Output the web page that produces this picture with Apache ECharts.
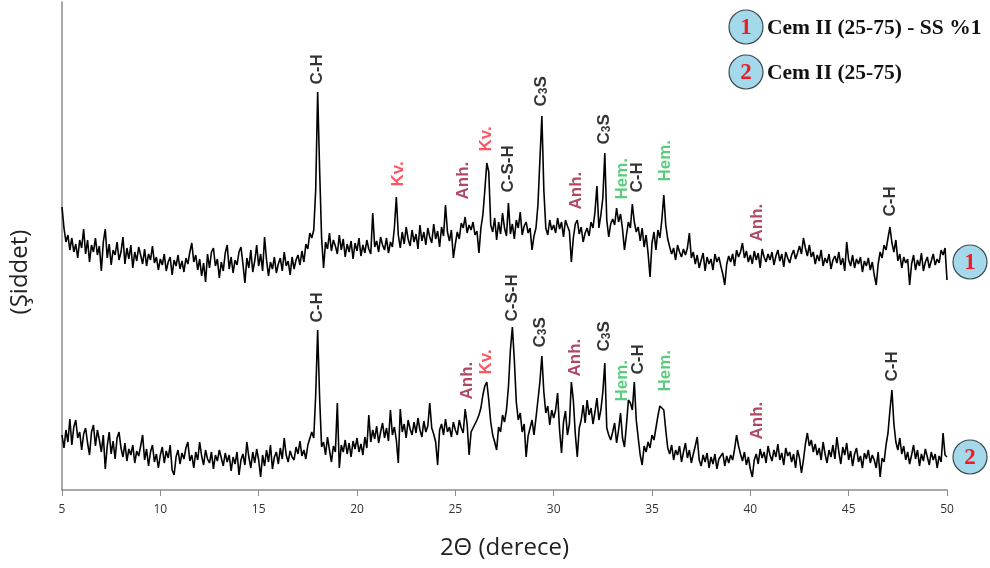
<!DOCTYPE html>
<html>
<head>
<meta charset="utf-8">
<script src="https://cdn.jsdelivr.net/npm/echarts@6/dist/echarts.min.js"></script>
<style>html,body{margin:0;padding:0;background:#fff}#c{width:990px;height:568px}</style>
</head>
<body>
<div id="c"></div>
<script>
// 2θ sampling grid of the traces
const thetaStart = 5.0;
const thetaStep = 0.1;
const xTicks = [5, 10, 15, 20, 25, 30, 35, 40, 45, 50];

// Trace 1: Cem II (25-75) - SS %1 (offset intensity, arbitrary units)
const trace1 = [
283,262,248,255,240,252,238,246,232,250,
242,261,236,250,228,245,238,252,235,244,
219,248,261,232,246,225,240,235,248,230,
238,253,226,242,231,245,222,238,229,243,
235,226,241,224,236,230,244,227,233,220,
231,225,236,219,228,233,215,230,224,235,
221,229,218,232,226,238,247,228,235,220,
231,214,227,208,236,222,238,242,224,231,
212,228,219,237,245,221,233,217,230,225,
238,243,226,207,232,222,240,218,229,245,
224,236,219,253,230,214,228,221,233,217,
226,232,219,238,224,229,215,233,221,230,
235,225,239,228,246,241,257,252,260,300,
398,320,252,222,248,241,257,239,250,244,
236,255,240,251,233,246,238,249,231,247,
239,252,234,245,237,250,241,236,277,243,
249,238,253,245,240,252,237,248,243,262,
293,255,242,258,246,263,251,244,260,248,
256,241,265,249,258,245,262,253,247,266,
251,259,243,263,254,285,258,249,260,232,
246,258,251,267,262,273,257,265,260,268,
255,259,237,262,275,300,327,318,265,258,
272,250,268,256,277,262,254,287,256,266,
251,270,262,278,255,264,268,257,262,240,
254,262,285,330,374,300,262,255,270,260,
265,257,272,261,268,253,270,264,259,228,
252,266,270,256,263,248,257,262,254,268,
262,278,304,262,275,292,337,270,253,266,
271,265,282,268,276,261,240,255,268,262,
286,268,258,263,249,262,243,255,237,213,
247,258,240,260,252,270,295,265,251,243,
236,242,230,245,238,233,241,235,242,257,
232,238,226,235,222,230,237,219,233,226,
231,220,236,228,233,224,216,205,226,234,
228,236,224,240,233,238,247,232,239,228,
235,226,239,230,237,222,241,233,228,236,
230,238,225,234,240,229,236,223,238,232,
227,235,240,231,237,244,236,252,242,234,
245,233,238,226,235,229,240,224,232,227,
236,221,230,234,227,238,225,232,219,248,
230,224,235,222,231,226,233,218,229,224,
232,220,228,215,205,226,238,232,245,240,
252,263,247,238,250,229,236,222,233,227,
231,205,226,235,220,230,224,237,219,228,
233,222,229,236,225,231,227,240,235,242,
210
];

// Trace 2: Cem II (25-75)
const trace2 = [
55,42,60,48,71,45,63,70,52,58,
40,56,62,47,35,58,65,44,60,50,
38,55,21,44,58,36,49,31,52,58,
42,33,47,29,41,35,45,27,39,34,
44,55,30,41,24,38,45,28,36,22,
35,43,27,39,32,45,20,15,33,40,
26,37,31,42,48,29,35,22,38,30,
48,34,25,40,31,27,38,21,35,29,
40,32,24,37,28,35,19,33,26,38,
15,30,36,25,48,33,22,38,27,41,
30,13,35,24,40,28,45,21,33,38,
26,42,31,52,35,28,39,33,30,43,
36,49,34,40,31,45,44,58,52,95,
160,92,43,48,35,53,40,28,44,38,
87,22,45,38,50,36,47,33,49,41,
52,38,46,35,53,42,75,48,60,51,
64,47,58,67,52,62,49,80,55,63,
50,27,81,58,66,52,70,61,55,68,
57,72,60,53,69,58,64,87,62,56,
48,25,60,66,55,71,58,63,53,68,
60,55,70,62,57,81,66,35,58,62,
64,70,75,82,95,104,108,90,68,55,
48,40,63,58,75,68,80,103,140,163,
130,88,70,77,58,66,33,54,62,70,
55,72,90,108,134,98,77,84,65,80,
72,80,97,60,37,68,79,55,66,108,
90,56,33,62,70,85,67,90,75,82,
66,78,92,70,80,98,127,62,55,50,
58,67,47,60,77,52,43,65,90,87,
80,108,70,52,35,25,44,38,48,42,
55,50,62,74,84,86,80,60,42,36,
45,30,40,35,44,28,38,47,32,40,
27,36,44,53,30,24,35,28,37,22,
33,26,36,21,31,29,37,24,34,27,
35,30,41,55,44,36,29,38,25,33,
21,13,30,36,26,41,32,38,27,44,
35,29,40,33,46,30,37,25,42,34,
38,28,36,22,40,32,17,30,46,57,
44,50,38,46,35,42,30,48,36,27,
40,33,45,31,53,38,26,43,35,47,
30,39,24,36,42,28,34,22,37,31,
40,27,35,30,22,38,13,32,28,45,
57,80,100,66,48,40,52,36,44,30,
38,26,35,45,31,40,24,36,29,41,
33,25,38,30,36,22,34,28,57,35,
33
];

// Phase labels: [2θ, label base intensity, text, phase]
const labels1 = [
  [18.0, 405, 'C-H', 'ch'],
  [22.08, 303, 'Kv.', 'kv'],
  [25.39, 290, 'Anh.', 'anh'],
  [26.6, 338, 'Kv.', 'kv'],
  [27.67, 297, 'C-S-H', 'ch'],
  [29.35, 383, 'C3S', 'c3s'],
  [31.13, 280, 'Anh.', 'anh'],
  [32.55, 345, 'C3S', 'c3s'],
  [33.47, 290, 'Hem.', 'hem'],
  [34.23, 297, 'C-H', 'ch'],
  [35.66, 308, 'Hem.', 'hem'],
  [40.33, 248, 'Anh.', 'anh'],
  [47.1, 273, 'C-H', 'ch']
];
const labels2 = [
  [18.0, 167, 'C-H', 'ch'],
  [25.59, 90, 'Anh.', 'anh'],
  [26.6, 115, 'Kv.', 'kv'],
  [27.88, 168, 'C-S-H', 'ch'],
  [29.3, 142, 'C3S', 'c3s'],
  [31.08, 113, 'Anh.', 'anh'],
  [32.55, 138, 'C3S', 'c3s'],
  [33.47, 88, 'Hem.', 'hem'],
  [34.28, 115, 'C-H', 'ch'],
  [35.66, 98, 'Hem.', 'hem'],
  [40.33, 50, 'Anh.', 'anh'],
  [47.2, 108, 'C-H', 'ch']
];
const legendNames = ['Cem II (25-75) - SS %1', 'Cem II (25-75)'];

const toPairs = arr => arr.map((v, i) => [+(thetaStart + i * thetaStep).toFixed(2), v]);

const lblFont = "'Liberation Sans', Arial, sans-serif";
const rich = {
  ch: {color: '#000', fontSize: 17, fontWeight: 'bold', fontFamily: lblFont},
  kv: {color: '#ff2b3a', fontSize: 17, fontWeight: 'bold', fontFamily: lblFont},
  anh: {color: '#9e1a3c', fontSize: 17, fontWeight: 'bold', fontFamily: lblFont},
  hem: {color: '#2fbf5a', fontSize: 17, fontWeight: 'bold', fontFamily: lblFont},
  s: {color: '#000', fontSize: 12, fontWeight: 'bold', fontFamily: lblFont, verticalAlign: 'bottom', padding: [6, 0, 0, 0]}
};
function fmt(p) {
  const d = p.data;
  if (d.phase === 'c3s') return '{ch|C}{s|3}{ch|S}';
  return '{' + d.phase + '|' + d.text + '}';
}
const labelSeries = labs => ({
  type: 'scatter',
  data: labs.map(l => ({value: [l[0], l[1]], text: l[2], phase: l[3]})),
  symbolSize: 1,
  itemStyle: {color: 'rgba(0,0,0,0)'},
  silent: true,
  z: 5,
  label: {
    show: true, position: 'top', distance: 0, rotate: 90,
    align: 'left', verticalAlign: 'middle', formatter: fmt, rich: rich
  }
});

const circleFill = '#a3d9ea';
function numberBadge(cx, cy, n) {
  return [
    {type: 'circle', shape: {cx: cx, cy: cy, r: 17}, style: {fill: circleFill, stroke: '#3a4a50', lineWidth: 1.2}, z: 10},
    {type: 'text', x: cx, y: cy + 1, style: {text: n, fill: '#ee1c25', font: "bold 23px 'Liberation Serif', serif", align: 'center', verticalAlign: 'middle'}, z: 11}
  ];
}

const chart = echarts.init(document.getElementById('c'));
chart.setOption({
  animation: false,
  grid: {left: 62, right: 43, top: 2, bottom: 78},
  xAxis: {
    type: 'value', min: 5, max: 50, interval: 5,
    axisLine: {lineStyle: {color: '#8c8c8c', width: 1.5}},
    axisTick: {show: true, inside: false, length: 6, lineStyle: {color: '#8c8c8c'}},
    splitLine: {show: false},
    axisLabel: {color: '#333', fontSize: 12, margin: 14, fontFamily: "'Liberation Sans Narrow', 'Open Sans', sans-serif",
      formatter: v => xTicks.includes(v) ? String(v) : ''},
    name: '2Θ (derece)', nameLocation: 'middle', nameGap: 46,
    nameTextStyle: {fontSize: 24, color: '#222', fontFamily: "'Open Sans', sans-serif"}
  },
  yAxis: {
    type: 'value', min: 0, max: 488,
    axisLine: {show: true, lineStyle: {color: '#8c8c8c', width: 1.5}},
    axisTick: {show: false}, axisLabel: {show: false}, splitLine: {show: false}
  },
  series: [
    {type: 'line', name: legendNames[0], data: toPairs(trace1), showSymbol: false, symbol: 'none',
      lineStyle: {color: '#000', width: 1.6}, z: 3},
    {type: 'line', name: legendNames[1], data: toPairs(trace2), showSymbol: false, symbol: 'none',
      lineStyle: {color: '#000', width: 1.6}, z: 3},
    labelSeries(labels1),
    labelSeries(labels2)
  ],
  graphic: [
    {type: 'text', x: 20, y: 272, rotation: Math.PI / 2,
      style: {text: '(Şiddet)', font: "24px 'Open Sans', sans-serif", fill: '#222', align: 'center', verticalAlign: 'middle'}},
    ...numberBadge(746, 27, '1'),
    ...numberBadge(746, 72, '2'),
    {type: 'text', x: 767, y: 28, style: {text: legendNames[0], font: "bold 21.5px 'Liberation Serif', serif", fill: '#111', align: 'left', verticalAlign: 'middle'}},
    {type: 'text', x: 767, y: 73, style: {text: legendNames[1], font: "bold 21.5px 'Liberation Serif', serif", fill: '#111', align: 'left', verticalAlign: 'middle'}},
    ...numberBadge(970, 262, '1'),
    ...numberBadge(970, 457, '2')
  ]
});
</script>
</body>
</html>
